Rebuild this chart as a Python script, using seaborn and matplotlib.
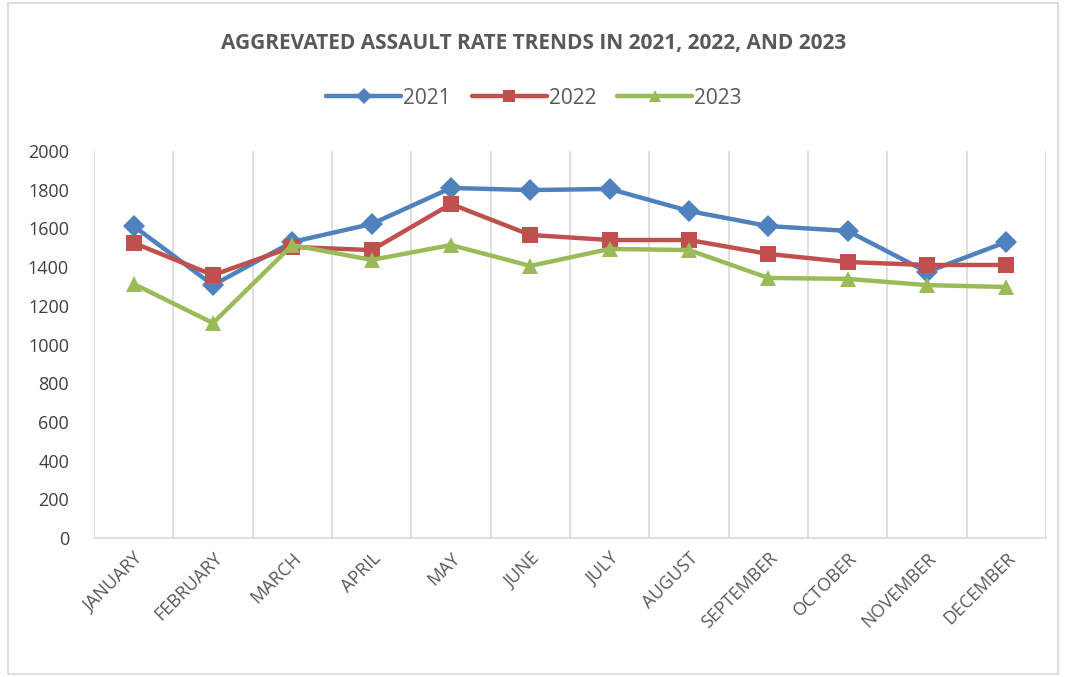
import pandas as pd
import seaborn as sns
import matplotlib.pyplot as plt
from matplotlib.patches import Rectangle

months = ["JANUARY", "FEBRUARY", "MARCH", "APRIL", "MAY", "JUNE", "JULY",
          "AUGUST", "SEPTEMBER", "OCTOBER", "NOVEMBER", "DECEMBER"]
rate_2021 = [1612, 1307, 1530, 1623, 1809, 1798, 1804, 1690, 1612, 1587, 1375, 1530]
rate_2022 = [1525, 1359, 1504, 1488, 1726, 1566, 1540, 1540, 1468, 1426, 1411, 1411]
rate_2023 = [1313, 1111, 1514, 1437, 1514, 1406, 1494, 1488, 1344, 1339, 1307, 1297]
years = ["2021", "2022", "2023"]

# long format for seaborn
rows = []
for yr, vals in zip(years, [rate_2021, rate_2022, rate_2023]):
    for i, v in enumerate(vals):
        rows.append({"month": i, "rate": v, "year": yr})
data = pd.DataFrame(rows)

sns.set_style("white")
plt.rcParams["font.family"] = ["Open Sans", "DejaVu Sans"]

fig = plt.figure(figsize=(10.68, 6.77), dpi=100)
ax = fig.add_axes([94 / 1068, 1 - 538 / 677, 952 / 1068, 387 / 677])

palette = {"2021": "#4F81BD", "2022": "#C0504D", "2023": "#9BBB59"}
markers = {"2021": "D", "2022": "s", "2023": "^"}
sns.lineplot(data=data, x="month", y="rate", hue="year", style="year",
             markers=markers, dashes=False, palette=palette, linewidth=3.2,
             markersize=11, markeredgewidth=0, ax=ax)

ax.set_xlim(-0.5, 11.5)
ax.set_ylim(0, 2000)
ax.set_yticks(range(0, 2001, 200))
ax.set_xticks(range(12))
ax.set_xticklabels(months, rotation=45, ha="right", rotation_mode="anchor",
                   fontsize=13, color="#595959")
ax.tick_params(axis="y", labelsize=13, colors="#404040", length=0, pad=18)
ax.tick_params(axis="x", length=0, pad=8)
ax.set_xticks([i - 0.5 for i in range(13)], minor=True)
ax.grid(True, which="minor", axis="x", color="#D9D9D9", linewidth=1.2)
ax.tick_params(which="minor", length=0)
ax.set_xlabel("")
ax.set_ylabel("")
for s in ["top", "left", "right"]:
    ax.spines[s].set_visible(False)
ax.spines["bottom"].set_color("#D9D9D9")
ax.spines["bottom"].set_linewidth(1.2)

handles, labels = ax.get_legend_handles_labels()
for h in handles:
    h.set_markersize(8)
ax.legend(handles, labels, loc="center", bbox_to_anchor=(0.5, 1 - 98 / 677),
          bbox_transform=fig.transFigure, ncol=3, frameon=False, fontsize=15,
          handlelength=3.6, columnspacing=1.0, handletextpad=0.1,
          labelcolor="#595959")

fig.text(0.5, 1 - 44 / 677, "AGGREVATED ASSAULT RATE TRENDS IN 2021, 2022, AND 2023",
         ha="center", va="center", fontsize=15, fontweight="bold", color="#595959")

fig.patches.append(Rectangle((8 / 1068, 0.005), 1050 / 1068, 0.99,
                             transform=fig.transFigure, fill=False,
                             edgecolor="#D9D9D9", linewidth=1.2))

fig.savefig("out.png", dpi=100)
